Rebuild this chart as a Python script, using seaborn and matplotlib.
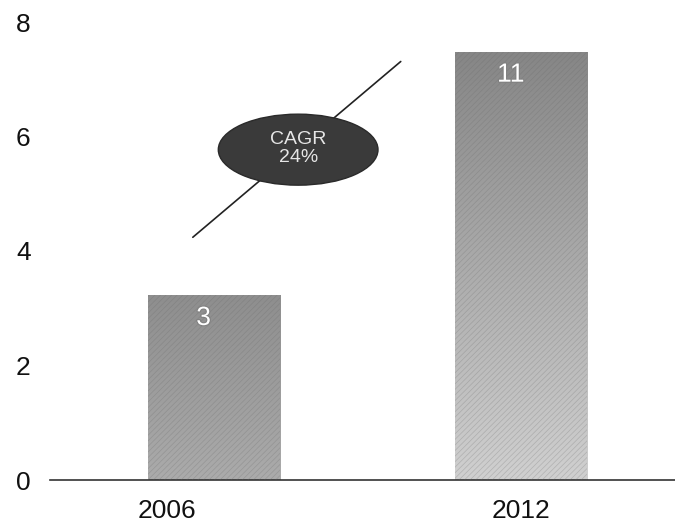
import numpy as np
import pandas as pd
import matplotlib
matplotlib.use("Agg")
import matplotlib.pyplot as plt
import matplotlib.patheffects as pe
from matplotlib.patches import Ellipse
from matplotlib.transforms import ScaledTranslation
import seaborn as sns

# ---- data ----
years = ["2006", "2012"]
heights = [3.23, 7.48]
value_labels = ["3", "11"]
y_ticks = [0, 2, 4, 6, 8]
cagr_text = "CAGR\n24%"
trend_x = [-0.07, 0.607]
trend_y = [4.24, 7.31]

sns.set_theme(style="white")
plt.rcParams["font.family"] = ["Liberation Sans", "DejaVu Sans"]
plt.rcParams["hatch.linewidth"] = 0.5

df = pd.DataFrame({"year": years, "value": heights})

fig = plt.figure(figsize=(6.75, 5.3), dpi=100)
ax = fig.add_axes([50 / 675, 1 - 480 / 530, 1 - 50 / 675, (480 - 22) / 530])

sns.barplot(data=df, x="year", y="value", ax=ax, width=0.43, color="#999999",
            saturation=1, zorder=2)

# gradient fill + fine diagonal texture on the bars
grads = [("#8e8e8e", "#ababab"), ("#868686", "#d0d0d0")]
for patch, (ctop, cbot) in zip(ax.patches, grads):
    x0, y0 = patch.get_x(), patch.get_y()
    w, h = patch.get_width(), patch.get_height()
    top = np.array(matplotlib.colors.to_rgb(ctop))
    bot = np.array(matplotlib.colors.to_rgb(cbot))
    t = np.linspace(0, 1, 256)[:, None]
    img = (top[None, :] * (1 - t) + bot[None, :] * t)[:, None, :]
    img = np.repeat(img, 2, axis=1)
    im = ax.imshow(img, extent=(x0, x0 + w, y0, y0 + h), aspect="auto",
                   origin="upper", zorder=2.5, interpolation="bilinear")
    im.set_clip_path(patch)
    patch.set_facecolor("none")
    patch.set_edgecolor((0.4, 0.4, 0.4, 0.28))
    patch.set_linewidth(0)
    patch.set_hatch("//////")
    patch.set_zorder(3)

ax.set_xlim(-0.535, 1.5)
ax.set_ylim(0, 8)

# value labels inside bars
for i, (hgt, lab) in enumerate(zip(heights, value_labels)):
    ax.text(i - 0.035, hgt - 0.4, lab, ha="center", va="center",
            fontsize=19, color="white", zorder=5,
            path_effects=[pe.withStroke(linewidth=1.5, foreground="#808080")])

# trend line and CAGR ellipse
ax.plot(trend_x, trend_y, color="#222222", lw=1.2, zorder=4)
ell = Ellipse((0.273, 5.77), width=0.52, height=1.24, facecolor="#3a3a3a",
              edgecolor="#2a2a2a", lw=1, zorder=6)
ax.add_patch(ell)
ax.text(0.273, 5.79, cagr_text, ha="center", va="center", fontsize=14,
        color="#e6e6e6", zorder=7, linespacing=1.1)

# axes styling
sns.despine(ax=ax, left=True, top=True, right=True)
ax.spines["bottom"].set_color("#333333")
ax.spines["bottom"].set_linewidth(1.2)
ax.set_yticks(y_ticks)
ax.set_yticklabels([str(v) for v in y_ticks], fontsize=19, color="#111111")
ax.tick_params(axis="y", length=0, pad=14)
ax.tick_params(axis="x", length=0, pad=14, labelsize=19, labelcolor="#111111")
ax.set_xlabel("")
ax.set_ylabel("")
ax.grid(False)

# first category label sits left of its bar in the reference
lbls = ax.get_xticklabels()
lbls[0].set_transform(lbls[0].get_transform() + ScaledTranslation(-47 / 100, 0, fig.dpi_scale_trans))

fig.savefig("out.png", dpi=100)
